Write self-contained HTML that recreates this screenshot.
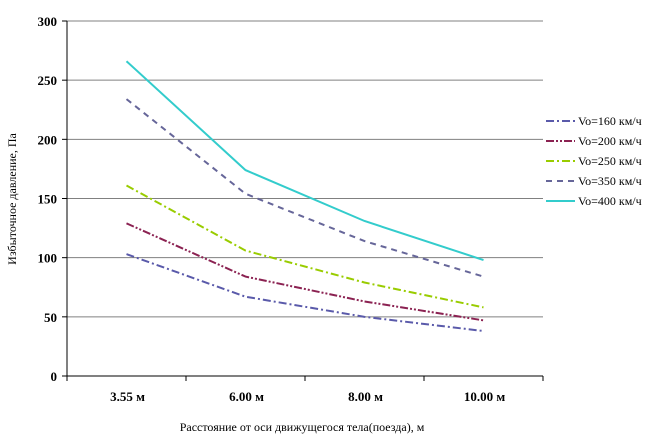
<!DOCTYPE html>
<html><head><meta charset="utf-8"><style>
body{margin:0;background:#fff;}
svg{display:block;font-family:"Liberation Serif",serif;}
</style></head><body>
<svg id="chart" width="654" height="441">
<g id="grid"></g><g id="axes"></g><g id="series"></g><g id="legend"></g>
<text x="302" y="431" font-size="12" text-anchor="middle">Расстояние от оси движущегося тела(поезда), м</text>
<text transform="translate(16,199) rotate(-90)" font-size="12" text-anchor="middle">Избыточное давление, Па</text>
</svg>
<script>
const categories=["3.55 м","6.00 м","8.00 м","10.00 м"];
const yTicks=[0,50,100,150,200,250,300];
const s160=[103,67,50,38];
const s200=[129,84,63,47];
const s250=[161,106,79,58];
const s350=[234,154,114,84];
const s400=[266,174,131,98];
const seriesNames=["Vo=160 км/ч","Vo=200 км/ч","Vo=250 км/ч","Vo=350 км/ч","Vo=400 км/ч"];
const NS="http://www.w3.org/2000/svg";
const L=67,R=543,T=21,B=376;
const y=v=>B-(v/300)*(B-T);
const x=i=>L+(i+0.5)*(R-L)/categories.length;
function mk(t,a,p){const e=document.createElementNS(NS,t);for(const k in a)e.setAttribute(k,a[k]);p.appendChild(e);return e;}
const grid=document.getElementById('grid'),axes=document.getElementById('axes'),ser=document.getElementById('series'),leg=document.getElementById('legend');
yTicks.forEach(v=>{
 if(v>0){const g=mk('line',{x1:L,x2:R,y1:y(v),y2:y(v),stroke:'#808080','stroke-width':1},grid);
 
 }
 const tk=mk('line',{x1:L-5,x2:L,y1:y(v),y2:y(v),stroke:'#000'},axes);
 
 
 const t=mk('text',{x:L-10,y:y(v)+5,'font-size':13,'font-weight':'bold','text-anchor':'end'},axes);t.textContent=v;
 
 
});
const ya=mk('line',{x1:L,x2:L,y1:T,y2:B,stroke:'#000'},axes);


const xa=mk('line',{x1:L,x2:R,y1:B,y2:B,stroke:'#000'},axes);


for(let i=0;i<=categories.length;i++){const px=L+i*(R-L)/categories.length;
 const tk=mk('line',{x1:px,x2:px,y1:B,y2:B+5,stroke:'#000'},axes);
 
 }
categories.forEach((c,i)=>{const t=mk('text',{x:x(i)+1,y:401,'font-size':13,'font-weight':'bold','text-anchor':'middle'},axes);t.textContent=c;
 
 });
const styles=[
 {c:'#5a5aaa',d:'8,3,2,3'},{c:'#8b2252',d:'8,2,2,2,2,2'},{c:'#99cc00',d:'8,3,2,3'},{c:'#666699',d:'6,5'},{c:'#33cccc',d:''}];
const data=[s160,s200,s250,s350,s400];
data.forEach((arr,k)=>{
 const p=mk('polyline',{points:arr.map((v,i)=>x(i)+','+y(v)).join(' '),fill:'none',stroke:styles[k].c,'stroke-width':2,'stroke-dasharray':styles[k].d},ser);
 
 
 const ly=121+k*20;
 const ll=mk('line',{x1:546,x2:575,y1:ly,y2:ly,stroke:styles[k].c,'stroke-width':2,'stroke-dasharray':styles[k].d},leg);
 
 
 const t=mk('text',{x:578,y:ly+4,'font-size':12},leg);t.textContent=seriesNames[k];
 
 
});
</script>
</body></html>
